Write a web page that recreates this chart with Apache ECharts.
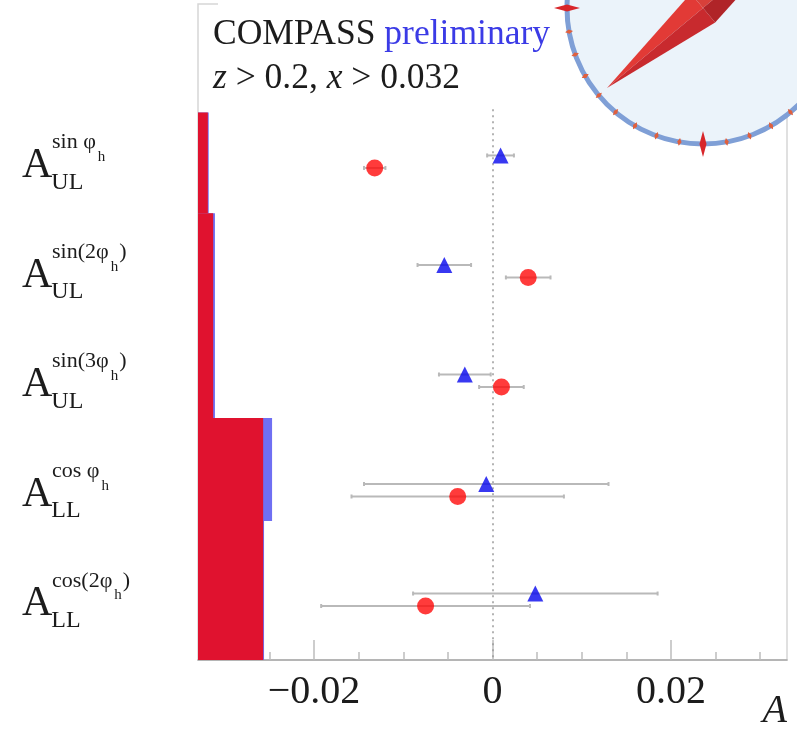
<!DOCTYPE html>
<html><head><meta charset="utf-8">
<script src="https://cdn.jsdelivr.net/npm/echarts@6/dist/echarts.min.js"></script>
<style>html,body{margin:0;padding:0;background:#fff}#c{width:797px;height:730px}</style>
</head><body><div id="c"></div>
<script>
// ---- data ----
const rows = [1, 2, 3, 4, 5];
const labelSup = ['sin φ', 'sin(2φ', 'sin(3φ', 'cos φ', 'cos(2φ'];
const labelSupTail = ['', ')', ')', '', ')'];
const labelSub = ['UL', 'UL', 'UL', 'LL', 'LL'];
const blueValues = [0.0009, -0.0054, -0.0031, -0.0007, 0.0048];
const blueErrors = [0.0015, 0.0030, 0.0029, 0.0137, 0.0137];
const redValues = [-0.0132, 0.0040, 0.0010, -0.0039, -0.0075];
const redErrors = [0.0012, 0.0025, 0.0025, 0.0119, 0.0117];
const sysBlue = [0.0012, 0.0019, 0.0019, 0.0083, 0.0074];
const sysRed = [0.0011, 0.0017, 0.0017, 0.0073, 0.0073];
const sysEdges = [0.55, 1.47, 2.41, 3.34, 4.28, 5.55];
const xTickLabels = [-0.02, 0, 0.02];
const xMinorTicks = [-0.03, -0.025, -0.015, -0.01, -0.005, 0.005, 0.01, 0.015, 0.025, 0.03];

// ---- layout constants ----
const X_MIN = -0.033, X_MAX = 0.033, Y_MIN = -0.44, Y_MAX = 5.55, OFF = 0.057;
const SERIF = 'Liberation Serif';

const chart = echarts.init(document.getElementById('c'));

function sysData(sys) {
  return rows.map((r, i) => [X_MIN, X_MIN + sys[i], sysEdges[i], sysEdges[i + 1]]);
}
function sysSeries(name, sys, color) {
  return {
    type: 'custom', name, z: 2, silent: true,
    data: sysData(sys),
    encode: { x: [0, 1], y: [2, 3] },
    renderItem: (params, api) => {
      const p0 = api.coord([api.value(0), api.value(2)]);
      const p1 = api.coord([api.value(1), api.value(3)]);
      return { type: 'rect', shape: { x: p0[0], y: p0[1], width: p1[0] - p0[0], height: p1[1] - p0[1] }, style: { fill: color } };
    }
  };
}
function errSeries(name, vals, errs, off) {
  return {
    type: 'custom', name, z: 3, silent: true,
    data: rows.map((r, i) => [vals[i] - errs[i], vals[i] + errs[i], r + off]),
    encode: { x: [0, 1], y: 2 },
    renderItem: (params, api) => {
      const a = api.coord([api.value(0), api.value(2)]);
      const b = api.coord([api.value(1), api.value(2)]);
      const st = { stroke: '#b9b9b9', lineWidth: 2 };
      return { type: 'group', children: [
        { type: 'line', shape: { x1: a[0], y1: a[1], x2: b[0], y2: b[1] }, style: st },
        { type: 'line', shape: { x1: a[0], y1: a[1] - 2, x2: a[0], y2: a[1] + 2 }, style: st },
        { type: 'line', shape: { x1: b[0], y1: b[1] - 2, x2: b[0], y2: b[1] + 2 }, style: st }
      ] };
    }
  };
}
const fmt = v => (v < 0 ? '\u2212' + Math.abs(v) : String(v));

chart.setOption({
  animation: false,
  grid: { left: 198, right: 10, top: 4, bottom: 70, show: true, borderColor: '#d6d6d6', borderWidth: 1.5, backgroundColor: 'transparent' },
  xAxis: [
    { type: 'value', min: X_MIN, max: X_MAX, position: 'bottom',
      axisLine: { show: true, onZero: false, lineStyle: { color: '#a8a8a8', width: 1.5 } },
      axisTick: { show: true, inside: true, length: 20, customValues: xTickLabels, lineStyle: { color: '#bdbdbd', width: 1.5 } },
      axisLabel: { show: true, customValues: xTickLabels, margin: 12, formatter: fmt, fontFamily: SERIF, fontSize: 40, color: '#1c1c1c' },
      splitLine: { show: false } },
    { type: 'value', min: X_MIN, max: X_MAX, position: 'bottom',
      axisLine: { show: false, onZero: false },
      axisTick: { show: true, inside: true, length: 8, customValues: xMinorTicks, lineStyle: { color: '#bdbdbd', width: 1.5 } },
      axisLabel: { show: false }, splitLine: { show: false } }
  ],
  yAxis: { type: 'value', min: Y_MIN, max: Y_MAX, inverse: true,
    axisLine: { show: false, onZero: false }, axisTick: { show: false }, axisLabel: { show: false }, splitLine: { show: false } },
  series: [
    sysSeries('sysBlue', sysBlue, '#6f6ff2'),
    sysSeries('sysRed', sysRed, '#e0122f'),
    errSeries('errBlue', blueValues, blueErrors, -OFF),
    errSeries('errRed', redValues, redErrors, OFF),
    { type: 'scatter', name: 'blue', z: 5, symbol: 'triangle', symbolSize: 16,
      itemStyle: { color: '#0606ee' },
      data: rows.map((r, i) => [blueValues[i], r - OFF]) },
    { type: 'scatter', name: 'red', z: 5, symbol: 'circle', symbolSize: 17,
      itemStyle: { color: '#ff0a0a' },
      data: rows.map((r, i) => [redValues[i], r + OFF]),
      markLine: { silent: true, symbol: ['none', 'none'], label: { show: false }, z: 1,
        lineStyle: { type: [2, 4], color: '#9a9a9a', width: 1.5 },
        data: [[{ coord: [0, 0.52] }, { coord: [0, Y_MAX] }]] } }
  ]
});

// ---- text and logo ----
const mc = document.createElement('canvas').getContext('2d');
function tw(text, size, style) { mc.font = (style || '') + ' ' + size + 'px "' + SERIF + '"'; return mc.measureText(text).width; }
function txt(text, x, baseY, size, opts) {
  opts = opts || {};
  return { type: 'text', z: 20, x, y: baseY - 0.32 * size,
    style: { text, fill: opts.fill || '#1c1c1c', font: (opts.style || '') + ' ' + size + 'px "' + SERIF + '"', verticalAlign: 'middle', align: opts.align || 'left' } };
}
const g = [];
// cover top frame line behind text box
g.push({ type: 'rect', z: 10, shape: { x: 218, y: 0, width: 579, height: 9 }, style: { fill: '#fff' } });
// row labels
rows.forEach((r, i) => {
  const yc = chart.convertToPixel({ yAxisIndex: 0 }, r);
  const ax = 22, aSize = 42, subSize = 24, supSize = 22, hSize = 15;
  g.push(txt('A', ax, yc + 18, aSize));
  const subX = ax + tw('A', aSize) - 1;
  g.push(txt(labelSub[i], subX, yc + 28.5, subSize));
  const supX = 52;
  g.push(txt(labelSup[i], supX, yc - 12, supSize));
  const hX = supX + tw(labelSup[i], supSize) + 2;
  g.push(txt('h', hX, yc + 0.5, hSize));
  if (labelSupTail[i]) g.push(txt(labelSupTail[i], hX + tw('h', hSize) + 1, yc - 12, supSize));
});
// header text
const HS = 35.5;
g.push(txt('COMPASS', 213, 46, HS));
g.push(txt('preliminary', 213 + tw('COMPASS ', HS), 46, HS, { fill: '#3b3be6' }));
g.push({ type: 'text', z: 20, x: 213, y: 90 - 0.32 * HS,
  style: { text: '{i|z} > 0.2, {i|x} > 0.032', font: HS + 'px "' + SERIF + '"', fill: '#1c1c1c', verticalAlign: 'middle',
    rich: { i: { fontFamily: SERIF, fontSize: HS, fontStyle: 'italic', fill: '#1c1c1c' } } } });
// axis title
g.push(txt('A', 787, 724, 40, { style: 'italic', align: 'right' }));

// compass logo
const cx = 703, cy = 8, R = 136;
g.push({ type: 'circle', z: 30, shape: { cx, cy, r: R }, style: { fill: '#ebf3fa', stroke: '#7f9fd6', lineWidth: 5 } });
for (let a = 0; a < 360; a += 10) {
  const t = a * Math.PI / 180, big = a % 90 === 0;
  const L = big ? 13 : 4, W = big ? 3.5 : 2.2;
  const ux = Math.cos(t), uy = Math.sin(t), px = -uy, py = ux;
  const mx = cx + R * ux, my = cy + R * uy;
  g.push({ type: 'polygon', z: 31, shape: { points: [
    [mx + L * ux, my + L * uy], [mx + W * px, my + W * py], [mx - L * ux, my - L * uy], [mx - W * px, my - W * py]] },
    style: { fill: big ? '#d8262a' : '#e0603e' } });
}
// needle
const T = [607, 88];
const ux = (T[0] - cx) / 125, uy = (T[1] - cy) / 125;
const px = -uy, py = ux, w = 19;
const A1 = [cx + w * px, cy + w * py], A2 = [cx - w * px, cy - w * py];
const T2 = [cx - 130 * ux, cy - 130 * uy];
const C = [cx, cy];
function side(pt) { return (pt[0] - cx) * 0.64 + (pt[1] - cy) * 0.768; }
const lower = side(A1) > 0 ? A1 : A2, upper = side(A1) > 0 ? A2 : A1;
g.push({ type: 'polygon', z: 32, shape: { points: [T, C, upper] }, style: { fill: '#e23a36' } });
g.push({ type: 'polygon', z: 32, shape: { points: [T, C, lower] }, style: { fill: '#c82a2e' } });
g.push({ type: 'polygon', z: 32, shape: { points: [T2, C, upper] }, style: { fill: '#d8403a' } });
g.push({ type: 'polygon', z: 32, shape: { points: [T2, C, lower] }, style: { fill: '#b02428' } });

chart.setOption({ graphic: g });
</script></body></html>
